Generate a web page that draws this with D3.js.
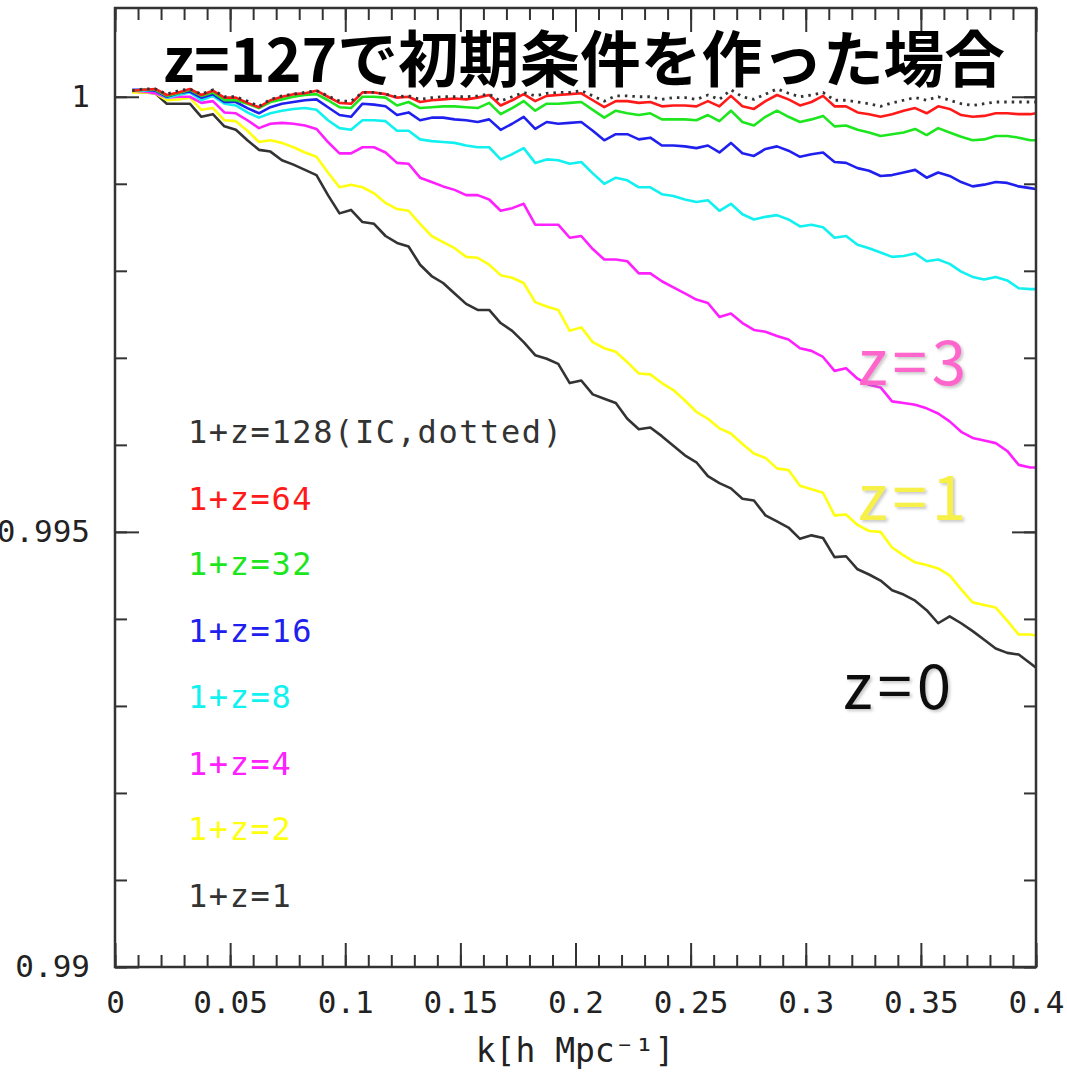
<!DOCTYPE html>
<html>
<head>
<meta charset="utf-8">
<script src="https://cdn.jsdelivr.net/npm/d3@7"></script>
<style>
  body { margin: 0; background: #fff; }
  svg { display: block; }
</style>
</head>
<body>
<svg id="chart" width="1067" height="1072"></svg>
<script>
// Wavenumber bins k [h/Mpc]
const kValues = [
  0.0075,0.0125,0.0175,0.0225,0.0275,0.0325,0.0375,0.0425,0.0475,0.0525,
  0.0575,0.0625,0.0675,0.0725,0.0775,0.0825,0.0875,0.0925,0.0975,0.1025,
  0.1075,0.1125,0.1175,0.1225,0.1275,0.1325,0.1375,0.1425,0.1475,0.1525,
  0.1575,0.1625,0.1675,0.1725,0.1775,0.1825,0.1875,0.1925,0.1975,0.2025,
  0.2075,0.2125,0.2175,0.2225,0.2275,0.2325,0.2375,0.2425,0.2475,0.2525,
  0.2575,0.2625,0.2675,0.2725,0.2775,0.2825,0.2875,0.2925,0.2975,0.3025,
  0.3075,0.3125,0.3175,0.3225,0.3275,0.3325,0.3375,0.3425,0.3475,0.3525,
  0.3575,0.3625,0.3675,0.3725,0.3775,0.3825,0.3875,0.3925,0.3975,0.4
];

// Power spectrum ratio at each output epoch
const ratioIC = [
  1.00007,1.00009,1.00009,1.00003,1.00007,1.00009,1.00003,1.00008,1.00000,1.00000,
  0.99995,0.99989,0.99997,1.00001,1.00003,1.00005,1.00007,1.00001,0.99995,0.99995,
  1.00005,1.00005,1.00003,1.00000,1.00001,0.99997,0.99999,1.00000,1.00000,1.00000,
  1.00001,1.00003,0.99995,1.00000,1.00005,1.00001,1.00004,1.00005,1.00005,1.00007,
  1.00001,0.99995,1.00001,1.00001,1.00000,1.00000,0.99997,0.99999,0.99999,0.99997,
  1.00002,0.99997,1.00008,1.00000,0.99997,1.00003,1.00009,1.00004,1.00000,1.00002,
  1.00005,0.99996,0.99996,0.99994,0.99992,0.99989,0.99993,0.99996,0.99999,0.99996,
  1.00000,0.99996,0.99992,0.99990,0.99992,0.99994,0.99994,0.99994,0.99994,0.99994
];
const ratio64 = [
  1.00007,1.00008,1.00009,1.00002,1.00005,1.00009,1.00002,1.00007,0.99999,0.99999,
  0.99993,0.99988,0.99996,1.00000,1.00003,1.00004,1.00007,1.00000,0.99993,0.99992,
  1.00005,1.00005,1.00003,0.99999,1.00000,0.99994,0.99996,0.99997,0.99998,0.99997,
  0.99999,1.00002,0.99990,0.99996,1.00003,0.99995,1.00001,1.00002,1.00003,1.00004,
  0.99996,0.99988,0.99995,0.99995,0.99993,0.99994,0.99989,0.99990,0.99990,0.99989,
  0.99995,0.99989,1.00001,0.99989,0.99986,0.99995,1.00002,0.99997,0.99990,0.99994,
  1.00001,0.99989,0.99989,0.99982,0.99980,0.99977,0.99980,0.99984,0.99987,0.99981,
  0.99989,0.99986,0.99979,0.99977,0.99978,0.99981,0.99981,0.99980,0.99980,0.99981
];
const ratio32 = [
  1.00007,1.00008,1.00008,1.00001,1.00004,1.00008,1.00001,1.00005,0.99996,0.99996,
  0.99992,0.99987,0.99994,0.99997,1.00000,1.00002,1.00003,0.99996,0.99988,0.99987,
  1.00000,1.00000,0.99999,0.99990,0.99994,0.99987,0.99988,0.99989,0.99989,0.99988,
  0.99987,0.99993,0.99980,0.99987,0.99995,0.99984,0.99992,0.99992,0.99993,0.99994,
  0.99985,0.99976,0.99984,0.99981,0.99979,0.99981,0.99974,0.99974,0.99974,0.99973,
  0.99979,0.99972,0.99984,0.99971,0.99967,0.99977,0.99984,0.99977,0.99971,0.99974,
  0.99978,0.99966,0.99967,0.99962,0.99959,0.99955,0.99957,0.99959,0.99963,0.99956,
  0.99964,0.99959,0.99954,0.99950,0.99951,0.99955,0.99955,0.99953,0.99950,0.99950
];
const ratio16 = [
  1.00008,1.00008,1.00007,1.00000,1.00004,1.00006,0.99999,1.00003,0.99994,0.99994,
  0.99987,0.99981,0.99988,0.99992,0.99994,0.99996,0.99997,0.99988,0.99979,0.99977,
  0.99992,0.99991,0.99989,0.99979,0.99982,0.99973,0.99976,0.99976,0.99974,0.99973,
  0.99971,0.99974,0.99962,0.99969,0.99977,0.99963,0.99971,0.99969,0.99970,0.99971,
  0.99961,0.99950,0.99957,0.99957,0.99951,0.99953,0.99944,0.99944,0.99943,0.99941,
  0.99944,0.99936,0.99947,0.99935,0.99932,0.99940,0.99943,0.99938,0.99931,0.99934,
  0.99936,0.99925,0.99924,0.99918,0.99915,0.99909,0.99910,0.99913,0.99916,0.99907,
  0.99913,0.99909,0.99902,0.99897,0.99899,0.99902,0.99901,0.99897,0.99895,0.99894
];
const ratio8 = [
  1.00007,1.00007,1.00007,0.99999,1.00002,1.00005,0.99996,1.00001,0.99992,0.99990,
  0.99982,0.99976,0.99981,0.99984,0.99986,0.99987,0.99985,0.99973,0.99964,0.99962,
  0.99973,0.99973,0.99972,0.99961,0.99961,0.99951,0.99949,0.99948,0.99947,0.99944,
  0.99942,0.99942,0.99928,0.99934,0.99941,0.99924,0.99928,0.99927,0.99923,0.99925,
  0.99912,0.99900,0.99907,0.99904,0.99896,0.99896,0.99888,0.99886,0.99882,0.99879,
  0.99881,0.99869,0.99877,0.99865,0.99859,0.99862,0.99864,0.99859,0.99851,0.99853,
  0.99850,0.99838,0.99840,0.99830,0.99826,0.99821,0.99816,0.99817,0.99820,0.99811,
  0.99813,0.99808,0.99799,0.99793,0.99790,0.99793,0.99789,0.99780,0.99779,0.99779
];
const ratio4 = [
  1.00007,1.00006,1.00004,0.99999,1.00000,1.00000,0.99993,0.99995,0.99982,0.99981,
  0.99973,0.99964,0.99969,0.99970,0.99969,0.99967,0.99963,0.99948,0.99935,0.99935,
  0.99942,0.99942,0.99936,0.99924,0.99923,0.99907,0.99902,0.99897,0.99893,0.99887,
  0.99887,0.99882,0.99869,0.99872,0.99877,0.99853,0.99853,0.99853,0.99838,0.99840,
  0.99825,0.99813,0.99813,0.99811,0.99797,0.99797,0.99788,0.99781,0.99774,0.99767,
  0.99763,0.99747,0.99751,0.99740,0.99732,0.99730,0.99725,0.99721,0.99711,0.99708,
  0.99701,0.99685,0.99688,0.99676,0.99669,0.99666,0.99650,0.99648,0.99646,0.99642,
  0.99636,0.99627,0.99615,0.99608,0.99605,0.99602,0.99593,0.99577,0.99574,0.99574
];
const ratio2 = [
  1.00005,1.00005,1.00004,0.99996,0.99997,0.99999,0.99985,0.99987,0.99973,0.99972,
  0.99961,0.99948,0.99950,0.99947,0.99942,0.99936,0.99931,0.99913,0.99896,0.99899,
  0.99896,0.99889,0.99878,0.99871,0.99869,0.99854,0.99840,0.99833,0.99826,0.99816,
  0.99815,0.99807,0.99795,0.99792,0.99786,0.99764,0.99759,0.99755,0.99731,0.99735,
  0.99718,0.99711,0.99707,0.99695,0.99682,0.99681,0.99671,0.99663,0.99651,0.99638,
  0.99630,0.99619,0.99613,0.99601,0.99590,0.99585,0.99573,0.99571,0.99553,0.99549,
  0.99545,0.99519,0.99520,0.99508,0.99501,0.99500,0.99482,0.99473,0.99465,0.99462,
  0.99458,0.99450,0.99434,0.99419,0.99416,0.99413,0.99398,0.99382,0.99382,0.99381
];
const ratio1 = [
  1.00006,1.00005,1.00004,0.99992,0.99992,0.99992,0.99977,0.99980,0.99966,0.99962,
  0.99950,0.99939,0.99937,0.99927,0.99922,0.99916,0.99910,0.99887,0.99866,0.99870,
  0.99856,0.99854,0.99840,0.99832,0.99828,0.99807,0.99794,0.99786,0.99774,0.99762,
  0.99755,0.99755,0.99740,0.99731,0.99718,0.99703,0.99699,0.99693,0.99671,0.99674,
  0.99658,0.99653,0.99648,0.99630,0.99618,0.99620,0.99610,0.99599,0.99588,0.99580,
  0.99564,0.99556,0.99550,0.99538,0.99536,0.99519,0.99512,0.99505,0.99492,0.99496,
  0.99493,0.99471,0.99472,0.99457,0.99451,0.99444,0.99433,0.99428,0.99421,0.99410,
  0.99395,0.99403,0.99395,0.99386,0.99376,0.99366,0.99361,0.99359,0.99349,0.99344
];

const legendLabels = [
  "1+z=128(IC,dotted)", "1+z=64", "1+z=32", "1+z=16",
  "1+z=8", "1+z=4", "1+z=2", "1+z=1"
];
const seriesColors = ["#333333", "#ff1a1a", "#1ee61e", "#2020ee", "#12f0f0", "#ff20ff", "#ffff10", "#333333"];

const xTickValues = [0, 0.05, 0.1, 0.15, 0.2, 0.25, 0.3, 0.35, 0.4];
const xTickLabels = ["0", "0.05", "0.1", "0.15", "0.2", "0.25", "0.3", "0.35", "0.4"];
const yTickValues = [0.99, 0.995, 1];
const yTickLabels = ["0.99", "0.995", "1"];

const titleText = "z=127で初期条件を作った場合";
const notes = [
  { text: "z=3", color: "#ff66cc" },
  { text: "z=1", color: "#f6f048" },
  { text: "z=0", color: "#111111" }
];

// ---------------------------------------------------------------
const series = [ratioIC, ratio64, ratio32, ratio16, ratio8, ratio4, ratio2, ratio1];

const svg = d3.select("#chart");
const plot = { left: 115, right: 1036, top: 8, bottom: 967 };

const x = d3.scaleLinear().domain([0, 0.4]).range([plot.left, plot.right]);
const y = d3.scaleLinear().domain([0.99, 1.00102]).range([plot.bottom, plot.top]);

const defs = svg.append("defs");
defs.append("clipPath").attr("id", "plotClip")
  .append("rect")
  .attr("x", plot.left).attr("y", plot.top)
  .attr("width", plot.right - plot.left).attr("height", plot.bottom - plot.top);

const shadow = defs.append("filter").attr("id", "softShadow")
  .attr("x", "-20%").attr("y", "-20%").attr("width", "140%").attr("height", "140%");
shadow.append("feDropShadow")
  .attr("dx", 2).attr("dy", 2).attr("stdDeviation", 1.5)
  .attr("flood-color", "#888").attr("flood-opacity", 0.45);

const tickFont = "'DejaVu Sans Mono', monospace";
const frameColor = "#333";

// Minor and major ticks on all four sides, drawn inward
const xMinor = d3.range(0, 0.4001, 0.01);
const yMinor = d3.range(0.99, 1.0005, 0.001);

function styleTicks(g) {
  g.select(".domain").remove();
  g.selectAll(".tick line").attr("stroke", frameColor).attr("stroke-width", 2);
}

svg.append("g").attr("transform", `translate(0,${plot.bottom})`)
  .call(d3.axisBottom(x).tickValues(xMinor).tickSize(-12).tickFormat(""))
  .call(styleTicks);
svg.append("g").attr("transform", `translate(0,${plot.top})`)
  .call(d3.axisTop(x).tickValues(xMinor).tickSize(-12).tickFormat(""))
  .call(styleTicks);
svg.append("g").attr("transform", `translate(0,${plot.top})`)
  .call(d3.axisTop(x).tickValues(xTickValues).tickSize(-24).tickFormat(""))
  .call(styleTicks);
svg.append("g").attr("transform", `translate(${plot.left},0)`)
  .call(d3.axisLeft(y).tickValues(yMinor).tickSize(-12).tickFormat(""))
  .call(styleTicks);
svg.append("g").attr("transform", `translate(${plot.right},0)`)
  .call(d3.axisRight(y).tickValues(yMinor).tickSize(-12).tickFormat(""))
  .call(styleTicks);
svg.append("g").attr("transform", `translate(${plot.right},0)`)
  .call(d3.axisRight(y).tickValues(yTickValues).tickSize(-24).tickFormat(""))
  .call(styleTicks);

// Labelled major ticks
svg.append("g").attr("transform", `translate(0,${plot.bottom})`)
  .call(d3.axisBottom(x).tickValues(xTickValues).tickSize(-24).tickPadding(24)
    .tickFormat((d, i) => xTickLabels[i]))
  .call(styleTicks)
  .call(g => g.selectAll("text")
    .attr("font-family", tickFont).attr("font-size", 31).attr("fill", "#222"));

svg.append("g").attr("transform", `translate(${plot.left},0)`)
  .call(d3.axisLeft(y).tickValues(yTickValues).tickSize(-24).tickPadding(25)
    .tickFormat((d, i) => yTickLabels[i]))
  .call(styleTicks)
  .call(g => g.selectAll("text")
    .attr("font-family", tickFont).attr("font-size", 31).attr("fill", "#222"));

// Axis title
svg.append("text")
  .attr("x", 575).attr("y", 1062)
  .attr("text-anchor", "middle")
  .attr("font-family", tickFont).attr("font-size", 33).attr("fill", "#222")
  .text("k[h Mpc⁻¹]");

// Curves
const line = d3.line()
  .x((d, i) => x(kValues[i]))
  .y(d => y(d));

const curves = svg.append("g").attr("clip-path", "url(#plotClip)");
const drawOrder = [7, 6, 5, 4, 3, 2, 1, 0];
drawOrder.forEach(si => {
  curves.append("path")
    .datum(series[si])
    .attr("d", line)
    .attr("fill", "none")
    .attr("stroke", seriesColors[si])
    .attr("stroke-width", si === 0 ? 2.8 : 2.6)
    .attr("stroke-linejoin", "round")
    .attr("stroke-dasharray", si === 0 ? "2.5,5" : null);
});

// Frame
svg.append("rect")
  .attr("x", plot.left).attr("y", plot.top)
  .attr("width", plot.right - plot.left).attr("height", plot.bottom - plot.top)
  .attr("fill", "none").attr("stroke", frameColor).attr("stroke-width", 2.5);

// Legend
const legendBaselines = [443, 510, 575, 642, 708, 775, 840, 907];
svg.append("g").selectAll("text")
  .data(legendLabels)
  .join("text")
  .attr("x", 188)
  .attr("y", (d, i) => legendBaselines[i])
  .attr("font-family", tickFont).attr("font-size", 32)
  .attr("letter-spacing", 1.6)
  .attr("fill", (d, i) => seriesColors[i])
  .text(d => d);

// Title
svg.append("text")
  .attr("x", 163).attr("y", 82)
  .attr("font-family", "'Noto Sans CJK JP', sans-serif")
  .attr("font-weight", 700).attr("font-size", 61)
  .attr("textLength", 842).attr("lengthAdjust", "spacingAndGlyphs")
  .attr("fill", "#000")
  .text(titleText);

// Redshift annotations beside the curves
const notePos = [[858, 385], [858, 520], [843, 709]];
svg.append("g").selectAll("text")
  .data(notes)
  .join("text")
  .attr("x", (d, i) => notePos[i][0])
  .attr("y", (d, i) => notePos[i][1])
  .attr("font-family", "'Noto Sans CJK JP', sans-serif")
  .attr("font-size", 62)
  .attr("letter-spacing", 5)
  .attr("fill", d => d.color)
  .attr("filter", "url(#softShadow)")
  .text(d => d.text);
</script>
</body>
</html>
